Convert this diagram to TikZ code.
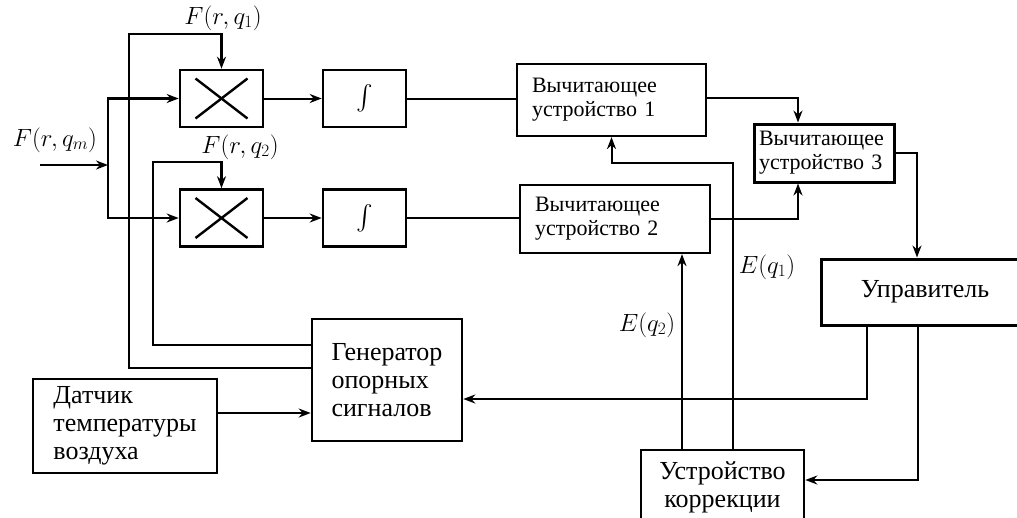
\documentclass[tikz,border=0pt]{standalone}
\usepackage{amsmath}
\usepackage{fontspec}
\setmainfont{Liberation Serif}
\usetikzlibrary{arrows.meta}

\begin{document}
\begin{tikzpicture}[x=1pt, y=-1pt,
    blockbox/.style = {draw, line width=2.6pt, inner sep=0pt, align=left, font=\fontsize{26}{28}\selectfont},
    subbox/.style = {draw, line width=2.2pt, inner xsep=15pt, inner ysep=0pt, align=left, font=\fontsize{22}{24}\selectfont},
    link/.style = {line width=2pt, -{Stealth[length=12pt, width=9pt]}},
    wire/.style = {line width=2pt},
    mathlabel/.style = {inner sep=0pt, font=\fontsize{24}{26}\selectfont}]

    % Define dimensions
    \def\mulWidth{83pt}
    \def\mulHeight{57pt}
    \def\crossX{26pt}
    \def\crossY{20pt}

    \useasboundingbox (0,0) rectangle (1017,517);
    \clip (0,0) rectangle (1017,517);

    %Blocks
    \node[blockbox, minimum width=\mulWidth, minimum height=\mulHeight] (mult1) at (221.5,98.5) {};
    \node[blockbox, minimum width=\mulWidth, minimum height=\mulHeight] (mult2) at (221.5,218) {};
    \node[blockbox, minimum width=\mulWidth, minimum height=\mulHeight, font=\fontsize{28}{30}\selectfont] (int1) at (364.5,98.5) {$\int$};
    \node[blockbox, minimum width=\mulWidth, minimum height=\mulHeight, font=\fontsize{28}{30}\selectfont] (int2) at (364.5,218) {$\int$};

    \node[subbox, text width=159pt, minimum height=72pt] (sub1) at (611.5,100) {Вычитающее\\устройство 1};
    \node[subbox, text width=160pt, minimum height=68pt] (sub2) at (615,219) {Вычитающее\\устройство 2};
    \node[subbox, text width=130pt, inner xsep=5pt, minimum height=58pt, line width=3pt] (sub3) at (824,153) {Вычитающее\\устройство 3};

    \node[blockbox, minimum width=208pt, minimum height=66pt, line width=3pt] (upr) at (925,292) {Управитель};
    \node[blockbox, minimum width=150pt, minimum height=122pt] (gen) at (387,380) {Генератор\\опорных\\сигналов};
    \node[blockbox, minimum width=184pt, minimum height=94pt] (dat) at (125,426) {Датчик\\температуры\\воздуха};
    \node[blockbox, minimum width=163pt, minimum height=74pt, align=center] (kor) at (722.5,487) {Устройство\\коррекции};

    %Crosses of the multipliers
    \foreach \m in {mult1, mult2} {
        \draw[line width=2.4pt] ([shift={(-\crossX,\crossY)}]\m.center) -- ([shift={(\crossX,-\crossY)}]\m.center);
        \draw[line width=2.4pt] ([shift={(-\crossX,-\crossY)}]\m.center) -- ([shift={(\crossX,\crossY)}]\m.center);
    }

    %Input signal
    \coordinate (input) at (40,165);
    \coordinate (split) at (108,165);
    \draw[link, line width=2.6pt] (input) -- (split);
    \draw[link, line width=2.4pt] (split) |- (mult1.west);
    \draw[link, line width=2.4pt] (split) |- (mult2.west);

    %Reference signals
    \coordinate (q1corner) at (129,34);
    \coordinate (q2corner) at (153,162);
    \draw[link, line width=2.4pt] ([yshift=12pt]gen.west) -| (q1corner) -| (mult1.north);
    \draw[link, line width=2.4pt] ([yshift=35pt]gen.west) -| (q2corner) -| (mult2.north);

    %Main chain
    \draw[link] (mult1.east) -- (int1.west);
    \draw[link] (mult2.east) -- (int2.west);
    \draw[wire] (int1.east) -- (int1.east -| sub1.west);
    \draw[wire] (int2.east) -- (int2.east -| sub2.west);
    \draw[link] ([yshift=2pt]sub1.east) -| ([xshift=-26pt]sub3.north);
    \draw[link] (sub2.east) -| ([xshift=-26pt]sub3.south);
    \draw[link, line width=2.4pt] (sub3.east) -| ([xshift=-8pt]upr.north);

    %Feedback
    \draw[link] ([xshift=-58pt]upr.south) |- ([yshift=-19pt]gen.east);
    \draw[link] ([xshift=-7pt]upr.south) |- ([yshift=7pt]kor.east);
    \draw[link, line width=2.4pt] ([yshift=13pt]dat.east) -- ([yshift=-33pt]gen.west);

    %Corrections
    \coordinate (e1bend) at (611.5,163);
    \draw[link] ([xshift=10.5pt]kor.north) |- (e1bend) -- (sub1.south);
    \draw[link, line width=2.4pt] ([xshift=-40.5pt]kor.north) -- ([xshift=67pt]sub2.south);

    %Labels
    \node[mathlabel] (lq1) at (223,18) {$F(r,q_1)$};
    \node[mathlabel] (lq2) at (240,147) {$F(r,q_2)$};
    \node[mathlabel] (lqm) at (55,140) {$F(r,q_m)$};
    \node[mathlabel] (le1) at (767,267) {$E(q_1)$};
    \node[mathlabel] (le2) at (647,325) {$E(q_2)$};

\end{tikzpicture}
\end{document}
